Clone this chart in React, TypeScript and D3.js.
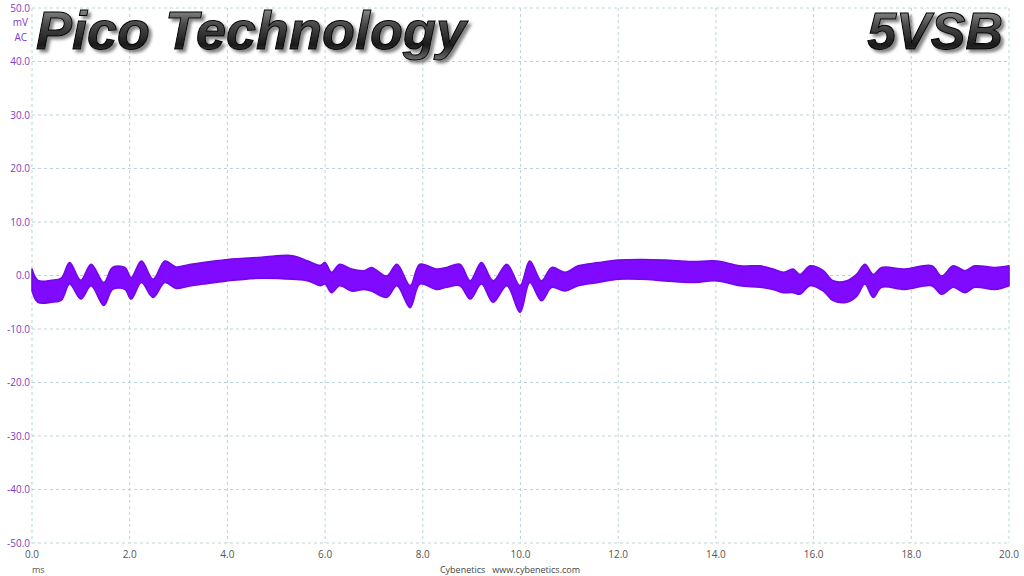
import * as d3 from "d3";
import { useEffect, useRef } from "react";

// sample times (ms) with the upper / lower edge of the noise band (mV)
const timeMs = [
  0, 0.12, 0.4, 0.6, 0.77, 1.0, 1.21, 1.47, 1.65, 1.9, 2.03, 2.24, 2.48, 2.72, 2.95,
  3.2, 3.5, 4.0, 4.7, 5.34, 5.65, 5.9, 6.0, 6.13, 6.3, 6.54, 6.8, 6.95, 7.26, 7.47,
  7.74, 7.94, 8.28, 8.49, 8.76, 8.97, 9.2, 9.44, 9.72, 9.99, 10.19, 10.43, 10.64,
  10.91, 11.18, 11.59, 12.0, 12.48, 12.96, 13.5, 14.02, 14.49, 14.9, 15.17, 15.38,
  15.58, 15.72, 15.93, 16.2, 16.4, 16.68, 16.88, 17.05, 17.22, 17.39, 17.87, 18.42,
  18.62, 18.86, 19.1, 19.3, 19.71, 20.0,
];
const upperMv = [
  1.2, -0.9, -0.9, -0.5, 2.4, -0.9, 2.1, -1.3, 1.5, 1.5, -0.4, 2.7, -0.7, 2.7, 1.6,
  2.0, 2.4, 3.0, 3.4, 3.7, 2.7, 1.9, 2.4, 0.6, 2.1, 1.2, 0.9, 1.5, -0.1, 2.1,
  -1.9, 2.1, 1.2, 1.5, 2.1, -1.0, 2.4, -1.0, 2.1, -1.9, 2.7, -1.0, 1.5,
  0.6, 1.8, 2.4, 2.9, 3.0, 2.9, 2.6, 2.7, 1.8, 1.8, 1.2, 0.6,
  1.2, 0.2, 1.8, 0.9, -1.0, -1.0, 0.2, 2.1, 0.2, 1.5, 1.2, 1.8,
  -0.1, 1.8, 0.9, 1.8, 1.5, 1.8,
];
const lowerMv = [
  -2.8, -5.0, -5.0, -4.6, -1.6, -4.4, -1.9, -5.6, -2.6, -2.6, -4.4, -1.3, -4.1, -1.3, -2.4,
  -2.0, -1.6, -1.0, -0.5, -0.7, -1.0, -1.9, -1.6, -3.2, -1.9, -2.9, -2.6, -2.9, -4.1, -1.9,
  -6.0, -1.6, -2.6, -2.2, -1.9, -4.4, -1.6, -5.0, -1.9, -6.9, -1.3, -4.7, -2.2,
  -2.9, -1.9, -1.3, -0.7, -0.7, -1.0, -1.3, -1.0, -1.9, -2.2, -2.6, -3.2,
  -3.2, -3.5, -1.9, -2.9, -4.7, -5.0, -3.9, -1.6, -4.1, -2.2, -2.6, -1.9,
  -3.5, -2.2, -3.2, -2.2, -2.6, -1.9,
];

const xTicks = [0, 2, 4, 6, 8, 10, 12, 14, 16, 18, 20];
const yTicks = [50, 40, 30, 20, 10, 0, -10, -20, -30, -40, -50];

const W = 1024;
const H = 576;

export default function App() {
  const ref = useRef<SVGSVGElement | null>(null);

  useEffect(() => {
    const svg = d3.select(ref.current);
    svg.selectAll("*").remove();

    const x = d3.scaleLinear().domain([0, 20]).range([32, 1009]);
    const y = d3.scaleLinear().domain([-50, 50]).range([543, 8]);

    const defs = svg.append("defs");
    const grad = defs
      .append("linearGradient")
      .attr("id", "titleGrad")
      .attr("x1", 0)
      .attr("y1", 0)
      .attr("x2", 0)
      .attr("y2", 1);
    grad.append("stop").attr("offset", "0%").attr("stop-color", "#b0b0b0");
    grad.append("stop").attr("offset", "40%").attr("stop-color", "#4a4a4a");
    grad.append("stop").attr("offset", "75%").attr("stop-color", "#1a1a1a");
    grad.append("stop").attr("offset", "100%").attr("stop-color", "#707070");
    defs
      .append("filter")
      .attr("id", "shadow")
      .attr("x", "-5%")
      .attr("y", "-20%")
      .attr("width", "115%")
      .attr("height", "150%")
      .append("feDropShadow")
      .attr("dx", 3)
      .attr("dy", 3)
      .attr("stdDeviation", 1.5)
      .attr("flood-color", "#555")
      .attr("flood-opacity", 0.7);

    svg.append("rect").attr("width", W).attr("height", H).attr("fill", "#fff");

    // grid
    const grid = svg.append("g").attr("stroke", "#bcd3d8").attr("stroke-dasharray", "3,3");
    grid
      .selectAll("line.v")
      .data(xTicks)
      .enter()
      .append("line")
      .attr("x1", d => x(d))
      .attr("x2", d => x(d))
      .attr("y1", y(50))
      .attr("y2", y(-50));
    grid
      .selectAll("line.h")
      .data(yTicks)
      .enter()
      .append("line")
      .attr("x1", x(0))
      .attr("x2", x(20))
      .attr("y1", d => y(d))
      .attr("y2", d => y(d));

    // y labels
    svg
      .append("g")
      .selectAll("text")
      .data(yTicks)
      .enter()
      .append("text")
      .attr("x", 30)
      .attr("y", d => y(d))
      .attr("dy", "0.35em")
      .attr("text-anchor", "end")
      .attr("font-family", "'Open Sans', 'DejaVu Sans', sans-serif")
      .attr("font-size", 10)
      .attr("fill", "#7a3cc8")
      .text(d => d.toFixed(1));

    svg
      .append("text")
      .attr("x", 28)
      .attr("y", 26)
      .attr("text-anchor", "end")
      .attr("font-family", "'Open Sans', sans-serif")
      .attr("font-size", 10)
      .attr("fill", "#7a3cc8")
      .text("mV");
    svg
      .append("text")
      .attr("x", 27)
      .attr("y", 41)
      .attr("text-anchor", "end")
      .attr("font-family", "'Open Sans', sans-serif")
      .attr("font-size", 10)
      .attr("fill", "#7a3cc8")
      .text("AC");

    // x labels
    svg
      .append("g")
      .selectAll("text")
      .data(xTicks)
      .enter()
      .append("text")
      .attr("x", d => x(d))
      .attr("y", 558)
      .attr("text-anchor", "middle")
      .attr("font-family", "'Open Sans', sans-serif")
      .attr("font-size", 10)
      .attr("fill", "#555")
      .text(d => d.toFixed(1));

    svg
      .append("text")
      .attr("x", 32)
      .attr("y", 573)
      .attr("font-family", "'Open Sans', sans-serif")
      .attr("font-size", 9)
      .attr("fill", "#555")
      .text("ms");
    svg
      .append("text")
      .attr("x", 510)
      .attr("y", 573)
      .attr("text-anchor", "middle")
      .attr("font-family", "'Open Sans', sans-serif")
      .attr("font-size", 9)
      .attr("fill", "#444")
      .attr("xml:space", "preserve")
      .text("Cybenetics   www.cybenetics.com");

    // signal band
    const pts = timeMs.map((t, i) => ({ t, hi: upperMv[i], lo: lowerMv[i] }));
    const area = d3
      .area<{ t: number; hi: number; lo: number }>()
      .x(d => x(d.t))
      .y0(d => y(d.lo))
      .y1(d => y(d.hi))
      .curve(d3.curveCatmullRom.alpha(0.5));
    svg
      .append("path")
      .attr("d", area(pts) as string)
      .attr("fill", "#7f0aff")
      .attr("stroke", "#7406e8")
      .attr("stroke-width", 1.6)
      .attr("stroke-linejoin", "round");

    // titles
    const title = (txt: string, tx: number, anchor: string, size: number) => {
      svg
        .append("text")
        .attr("x", tx)
        .attr("y", 49)
        .attr("font-family", "'Liberation Sans', Arial, sans-serif")
        .attr("font-weight", "bold")
        .attr("font-style", "italic")
        .attr("font-size", size)
        .attr("text-anchor", anchor)
        .attr("fill", "url(#titleGrad)")
        .attr("stroke", "#000")
        .attr("stroke-width", 1)
        .attr("filter", "url(#shadow)")
        .text(txt);
    };
    title("Pico Technology", 36, "start", 54);
    title("5VSB", 1003, "end", 52);
  }, []);

  return (
    <svg
      ref={ref}
      width={W}
      height={H}
      viewBox={`0 0 ${W} ${H}`}
      style={{ position: "absolute", left: 0, top: 0, display: "block" }}
    />
  );
}
